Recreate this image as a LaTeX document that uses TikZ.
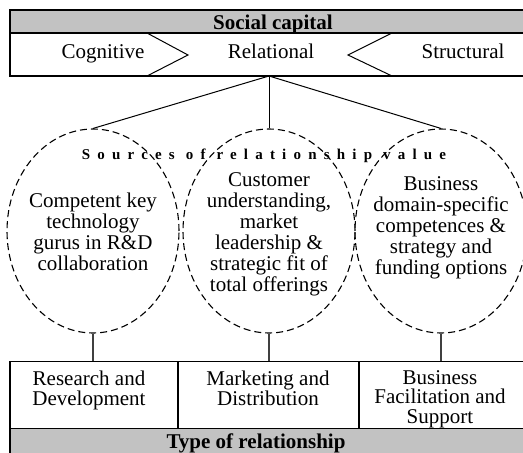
\documentclass[tikz,border=0pt]{standalone}
\usepackage{fontspec}
\setmainfont{Liberation Serif}
\usetikzlibrary{shapes.geometric}

\definecolor{bandgray}{RGB}{194,194,194}
\def\ellrx{86}
\def\ellry{102}
\newcommand{\kindfont}{\fontsize{21}{19.5}\selectfont\lineskiplimit -20pt\relax}

\begin{document}
\begin{tikzpicture}[x=1pt,y=-1pt,line width=1pt,
    font=\fontsize{21}{21}\selectfont]
      \tikzstyle{band}=[rectangle, draw, line width=1.4pt, fill=bandgray, inner sep=0pt]
      \tikzstyle{cell}=[rectangle, draw, line width=1.2pt, minimum height=67pt, inner sep=0pt, align=center]
      \tikzstyle{source}=[ellipse, draw, dashed, dash pattern=on 7pt off 4pt, line width=1.1pt, minimum width=2*\ellrx pt, minimum height=2*\ellry pt, inner sep=0pt]
      \tikzstyle{annot}=[align=center, inner sep=0pt, execute at begin node=\strut, execute at end node=\strut]
      \tikzstyle{kind}=[annot, font=\kindfont]
      \tikzstyle{title}=[annot, font=\fontsize{21}{21}\selectfont\bfseries]
      \tikzstyle{link}=[draw=black!75, line width=1.1pt]

      \useasboundingbox (0,0) rectangle (523,453);

      % Draw the social capital header and its three dimensions
      \node[cell, minimum width=530pt, minimum height=43pt] (DIM) at (275,54.5) {};
      \node[band, minimum width=530pt, minimum height=23pt] (SC) at (275,21.5) {};
      \node[title] (SCL) at (273,25) {Social capital};
      \draw (147,33) -- (188,55) -- (147,76);
      \draw (392,33) -- (348,55) -- (392,76);
      \node[annot] (COG) at (103,54.5) {Cognitive};
      \node[annot] (REL) at (271,54.5) {Relational};
      \node[annot] (STR) at (463,54.5) {Structural};
      \coordinate (TOP) at (269,76);

      % Draw the sources of relationship value
      \node[source] (E-1) at (93,231) {};
      \node[source] (E-2) at (269,231) {};
      \node[source] (E-3) at (441,231) {};
      \node[font=\fontsize{15}{16}\selectfont\addfontfeature{LetterSpace=48}\bfseries] (SRV) at (264,156)
          {Sources\hspace{11pt}of\hspace{11pt}relationship\hspace{11pt}value};
      \node[annot] (T-1) at (93,235) {Competent key\\technology\\gurus in R\&D\\collaboration};
      \node[annot] (T-2) at (269,235) {Customer\\understanding,\\market\\leadership \&\\strategic fit of\\total offerings};
      \node[annot] (T-3) at (441,229) {Business\\domain-specific\\competences \&\\strategy and\\funding options};

      % Draw the types of relationship
      \node[cell, minimum width=168pt] (C-1) at (94,395) {};
      \node[cell, minimum width=181pt] (C-2) at (268.5,395) {};
      \node[cell, minimum width=182pt] (C-3) at (450,395) {};
      \node[kind] (L-1) at (89,391) {Research and\\Development};
      \node[kind] (L-2) at (268,391) {Marketing and\\Distribution};
      \node[kind] (L-3) at (440,399.5) {Business\\Facilitation and\\Support};
      \node[band, minimum width=530pt, minimum height=30pt] (TR) at (275,443.5) {};
      \node[title] (TRL) at (256,444) {Type of relationship};

      % Connect the relational dimension with every source
      \foreach \dest in {1,...,3}
          \draw (TOP) -- (E-\dest.north);

      % Connect every source with its type of relationship
      \foreach \source in {1,...,3}
          \path[link] (E-\source.south) -- (E-\source.south |- C-\source.north);
\end{tikzpicture}
\end{document}
